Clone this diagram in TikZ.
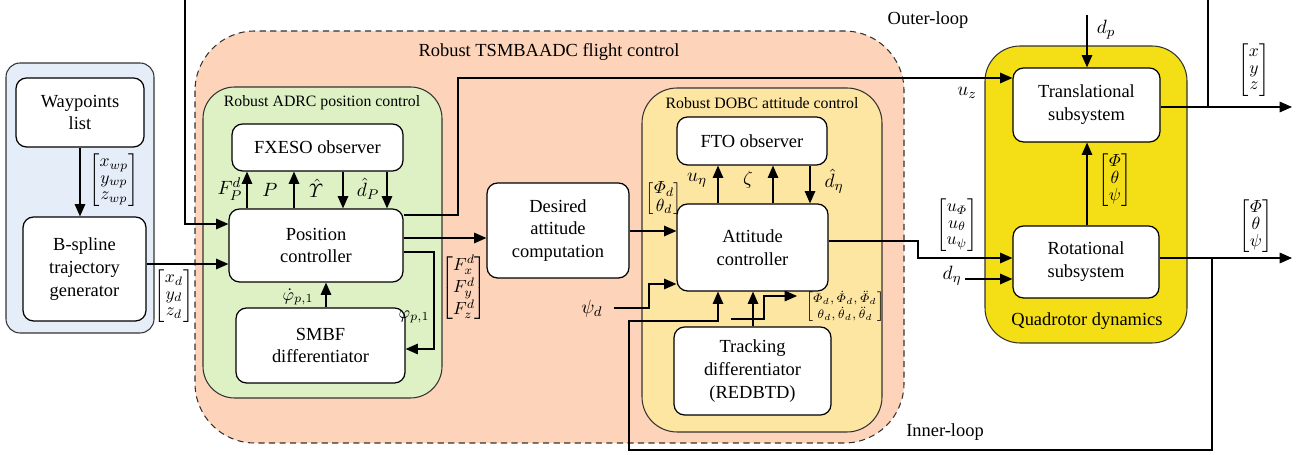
\documentclass[tikz,border=0pt]{standalone}
\usepackage{amsmath,amssymb}
\usepackage{fontspec}
\setmainfont{Liberation Serif}
\usetikzlibrary{arrows.meta,positioning,calc}
\definecolor{bluebg}{RGB}{229,237,248}
\definecolor{peach}{RGB}{253,212,186}
\definecolor{leaf}{RGB}{221,241,197}
\definecolor{sand}{RGB}{253,229,162}
\definecolor{quadyel}{RGB}{244,223,22}
\renewcommand{\arraystretch}{0.78}
\tikzset{
  blk/.style ={draw,fill=white,rounded corners=6pt,align=center,line width=0.7pt,
               inner sep=2pt,font=\fontsize{10.5}{13}\selectfont},
  grp/.style ={draw=black!80,line width=0.6pt},
  ar/.style  ={-{Triangle[length=7pt,width=6pt]},line width=0.7pt},
  ln/.style  ={line width=0.7pt},
  lbl/.style ={font=\normalsize,inner sep=1pt},
  sym/.style ={font=\fontsize{11}{13}\selectfont,inner sep=1pt},
  ttl/.style ={font=\fontsize{10.5}{13}\selectfont,inner sep=1pt},
  sttl/.style={font=\small,inner sep=1pt},
}

\begin{document}
\begin{tikzpicture}[x=0.02cm,y=-0.02cm]
  \useasboundingbox (0,0) rectangle (1308,455);
  % groups
  \draw[grp,fill=bluebg,rounded corners=8pt] (6,63) rectangle (154,333);
  \draw[grp,fill=peach,dash pattern=on 3.5pt off 2.5pt,rounded corners=34pt] (195,31) rectangle (904,443);
  \draw[grp,fill=leaf,rounded corners=18pt] (203,87) rectangle (442,398);
  \draw[grp,fill=sand,rounded corners=20pt] (642,88) rectangle (882,432);
  \draw[grp,fill=quadyel,rounded corners=20pt] (985,46) rectangle (1187,343);
  \node[ttl] (tFlight) at (549,52) {Robust TSMBAADC flight control};
  \node[sttl] (tADRC) at (322,103) {Robust ADRC position control};
  \node[sttl] (tDOBC) at (762,103) {Robust DOBC attitude control};
  \node[ttl] (tQuad) at (1087,321) {Quadrotor dynamics};
  \node[ttl] (tOuter) at (928,20) {Outer-loop};
  \node[ttl] (tInner) at (945,432) {Inner-loop};

  % blocks
  \node[blk,minimum width=2.56cm,minimum height=1.38cm] (wp) at (80,112.5) {Waypoints\\list};
  \node[blk,minimum width=2.46cm,minimum height=2.08cm] (bsp) at (84.5,269) {B-spline\\trajectory\\generator};
  \node[blk,minimum width=3.42cm,minimum height=0.94cm] (fxeso) at (317.5,147.5) {FXESO observer};
  \node[blk,minimum width=3.48cm,minimum height=1.46cm] (pos) at (316,245.5) {Position\\controller};
  \node[blk,minimum width=3.38cm,minimum height=1.5cm] (smbf) at (320.5,345.5) {SMBF\\differentiator};
  \node[blk,minimum width=2.84cm,minimum height=1.9cm] (dac) at (558,230.5) {Desired\\attitude\\computation};
  \node[blk,minimum width=3.0cm,minimum height=0.96cm] (fto) at (752,141) {FTO observer};
  \node[blk,minimum width=3.02cm,minimum height=1.74cm] (att) at (752.5,247.5) {Attitude\\controller};
  \node[blk,minimum width=3.14cm,minimum height=1.76cm] (td) at (752.5,371) {Tracking\\differentiator\\(REDBTD)};
  \node[blk,minimum width=2.94cm,minimum height=1.48cm] (trans) at (1086.5,105) {Translational\\subsystem};
  \node[blk,minimum width=2.92cm,minimum height=1.44cm] (rot) at (1086,262) {Rotational\\subsystem};

  % labels
  \node[lbl] (lwp) at (114,180) {$\begin{bmatrix}x_{wp}\\y_{wp}\\z_{wp}\end{bmatrix}$};
  \node[lbl] (lxd) at (174,296) {$\begin{bmatrix}x_d\\y_d\\z_d\end{bmatrix}$};
  \node[sym] (lFP) at (230,189) {$F_P^d$};
  \node[sym] (lP) at (270,190) {$P$};
  \node[sym] (lY) at (316,188) {$\hat{\varUpsilon}$};
  \node[sym] (ldP) at (368,189) {$\hat{d}_P$};
  \node[lbl] (lphid) at (298,297) {$\dot{\varphi}_{p,1}$};
  \node[lbl] (lphi) at (414,317) {$\varphi_{p,1}$};
  \node[lbl] (lF) at (464,288) {\renewcommand{\arraystretch}{1.05}$\begin{bmatrix}F_x^d\\F_y^d\\F_z^d\end{bmatrix}$};
  \node[lbl] (lang) at (664,199) {$\begin{bmatrix}\varPhi_d\\\theta_d\end{bmatrix}$};
  \node[sym] (lueta) at (697,180) {$u_\eta$};
  \node[sym] (lzeta) at (748,180) {$\zeta$};
  \node[sym] (ldeta) at (834,181) {$\hat{d}_\eta$};
  \node[lbl,font=\scriptsize] (ltd) at (845,307) {\renewcommand{\arraystretch}{1.1}$\begin{bmatrix}\varPhi_d,\dot{\varPhi}_d,\ddot{\varPhi}_d\\\theta_d,\dot{\theta}_d,\ddot{\theta}_d\end{bmatrix}$};
  \node[sym] (lpsid) at (592,309) {$\psi_d$};
  \node[lbl] (lu) at (957,225) {$\begin{bmatrix}u_{\varPhi}\\u_{\theta}\\u_{\psi}\end{bmatrix}$};
  \node[sym] (ldeta2) at (952,276) {$d_\eta$};
  \node[sym] (luz) at (967,93) {$u_z$};
  \node[sym] (ldp) at (1106,30) {$d_p$};
  \node[lbl] (lang2) at (1115,180) {$\begin{bmatrix}\varPhi\\\theta\\\psi\end{bmatrix}$};
  \node[lbl] (lxyz) at (1254,70) {$\begin{bmatrix}x\\y\\z\end{bmatrix}$};
  \node[lbl] (lang3) at (1256,226) {$\begin{bmatrix}\varPhi\\\theta\\\psi\end{bmatrix}$};

  % free ends
  \coordinate (olL) at (185,0);
  \coordinate (olR) at (1208,107);
  \coordinate (ilA) at (1212,258);
  \coordinate (psiS) at (614,308);
  \coordinate (tdS) at (731,319);
  \coordinate (tdE) at (797,296);
  \coordinate (detaS) at (965,279);
  \coordinate (dpS) at (1087,15);
  \coordinate (xyzE) at (1292,107);
  \coordinate (angE) at (1292,258);

  % connectors
  \draw[ar] (wp.south) -- (wp.south |- bsp.north);
  \draw[ar] (bsp.east |- 0,264) -- (pos.west |- 0,264);
  \draw[ar] (olL) |- (pos.west |- 0,224);
  \draw[ar] (pos.north -| 247,0) -- (fxeso.south -| 247,0);
  \draw[ar] (pos.north -| 294,0) -- (fxeso.south -| 294,0);
  \draw[ar] (fxeso.south -| 343,0) -- (pos.north -| 343,0);
  \draw[ar] (fxeso.south -| 387,0) -- (pos.north -| 387,0);
  \draw[ar] (smbf.north -| 326,0) -- (pos.south -| 326,0);
  \draw[ar] (pos.east |- 0,252) -| (434,349) -- (smbf.east |- 0,349);
  \draw[ar] (pos.east |- 0,215) -| (458,78) -- (trans.west |- 0,78);
  \draw[ar] (pos.east |- 0,238) -- (dac.west |- 0,238);
  \draw[ar] (dac.east |- 0,231) -- (att.west |- 0,231);
  \draw[ar] (att.north -| 718,0) -- (fto.south -| 718,0);
  \draw[ar] (att.north -| 773,0) -- (fto.south -| 773,0);
  \draw[ar] (fto.south -| 810,0) -- (att.north -| 810,0);
  \draw[ar] (psiS) -| (649,284) -- (att.west |- 0,284);
  \draw[ar] (td.north -| 753,0) -- (att.south -| 753,0);
  \draw[ar] (tdS) -| (764,296) -- (tdE);
  \draw[ar] (ilA) |- (629,450) |- (718,321) -- (att.south -| 718,0);
  \draw[ar] (att.east |- 0,241) -| (918,258) -- (rot.west |- 0,258);
  \draw[ar] (detaS) -- (rot.west |- detaS);
  \draw[ar] (dpS) -- (dpS |- trans.north);
  \draw[ar] (rot.north -| 1087,0) -- (trans.south -| 1087,0);
  \draw[ar] (trans.east |- xyzE) -- (xyzE);
  \draw[ar] (rot.east |- angE) -- (angE);
  \draw[ln] (olR) -- (1208,0);
\end{tikzpicture}
\end{document}
